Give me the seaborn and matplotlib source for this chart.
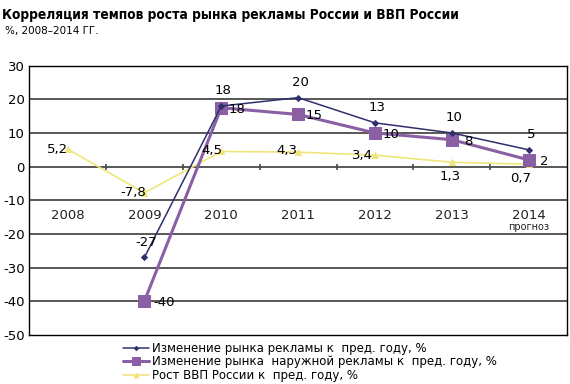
import numpy as np
import pandas as pd
import matplotlib.pyplot as plt
import seaborn as sns

# --- data ---
years = ['2008', '2009', '2010', '2011', '2012', '2013', '2014']
ad_market = [np.nan, -27, 18, 20.5, 13, 10, 5]
ad_labels = ['', '-27', '18', '20', '13', '10', '5']
outdoor = [np.nan, -40, 17.5, 15.5, 10, 8, 2]
outdoor_labels = ['', '-40', '18', '15', '10', '8', '2']
gdp = [5.2, -7.8, 4.5, 4.3, 3.4, 1.3, 0.7]
gdp_labels = ['5,2', '-7,8', '4,5', '4,3', '3,4', '1,3', '0,7']

c_ad = '#2f2f6f'
c_out = '#8a5fa3'
c_gdp = '#efe67a'

sns.set_style('white')
plt.rcParams['font.family'] = ['DejaVu Sans']
plt.rcParams['axes.unicode_minus'] = False
plt.rcParams['text.color'] = 'black'
plt.rcParams['ytick.color'] = 'black'

fig = plt.figure(figsize=(5.7, 3.84), dpi=100)
ax = fig.add_axes([0.051, 0.128, 0.944, 0.701])

pos = np.arange(len(years))
df = pd.DataFrame({'pos': pos, 'ad': ad_market, 'out': outdoor, 'gdp': gdp})

sns.lineplot(data=df, x='pos', y='gdp', ax=ax, color=c_gdp, lw=1.2,
             marker='^', markersize=5, markeredgecolor=c_gdp,
             label='Рост ВВП России к  пред. году, %')
sns.lineplot(data=df.dropna(), x='pos', y='out', ax=ax, color=c_out, lw=2.2,
             marker='s', markersize=9, markeredgecolor=c_out,
             label='Изменение рынка  наружной рекламы к  пред. году, %')
sns.lineplot(data=df.dropna(), x='pos', y='ad', ax=ax, color=c_ad, lw=1.1,
             marker='D', markersize=3, markeredgecolor=c_ad,
             label='Изменение рынка рекламы к  пред. году, %')

ax.set_xlim(-0.5, len(years) - 0.5)
ax.set_ylim(-50, 30)
ax.set_yticks(range(-50, 31, 10))
ax.set_xticks([])
ax.set_xlabel('')
ax.set_ylabel('')
ax.tick_params(axis='y', labelsize=9.5, length=0, pad=3)
for y in range(-40, 30, 10):
    ax.axhline(y, color='#4a4a4a', lw=1.3, zorder=0)
for s in ax.spines.values():
    s.set_color('black')
    s.set_linewidth(1.0)

# tick marks on the zero line between categories
ax.plot(pos[:-1] + 0.5, np.zeros(len(pos) - 1), ls='none', marker='|',
        color='#4a4a4a', markersize=5, mew=1.2, zorder=1)

# category labels inside the plot
for i, yr in enumerate(years):
    ax.text(i, -14.5, yr, ha='center', va='center', fontsize=9.5, color='#222222')
ax.text(6, -17.8, 'прогноз', ha='center', va='center', fontsize=7, color='#222222')

# value labels
for i, t in enumerate(ad_labels):
    if not t:
        continue
    ax.annotate(t, (i, ad_market[i]), xytext=(1.5, 11), textcoords='offset points',
                ha='center', va='center', fontsize=9.5)
for i, t in enumerate(outdoor_labels):
    if not t:
        continue
    dx = 14 if i == 1 else 11.5
    ax.annotate(t, (i, outdoor[i]), xytext=(dx, -1), textcoords='offset points',
                ha='center', va='center', fontsize=9.5)
gdp_off = [(-7, 0), (-8, 0), (-7, 1), (-8, 1), (-9, 0), (-1, -10), (-6, -10)]
for i, t in enumerate(gdp_labels):
    ax.annotate(t, (i, gdp[i]), xytext=gdp_off[i], textcoords='offset points',
                ha='center', va='center', fontsize=9.5)

# legend below the plot, order as in the reference
h, l = ax.get_legend_handles_labels()
ax.get_legend().remove()
fig.legend(h[::-1], l[::-1], loc='upper left', bbox_to_anchor=(0.205, 0.125),
           frameon=False, fontsize=8.5, handlelength=2.2, handletextpad=0.3,
           labelspacing=0.05, borderpad=0, markerscale=0.7)

fig.text(0.004, 0.978, 'Корреляция темпов роста рынка рекламы России и ВВП России',
         ha='left', va='top', fontsize=9.9, fontweight='bold',
         family='DejaVu Sans', fontstretch='condensed', color='black')
fig.text(0.009, 0.933, '%, 2008–2014 ГГ.', ha='left', va='top', fontsize=7.5)

fig.savefig('out.png', dpi=100)
